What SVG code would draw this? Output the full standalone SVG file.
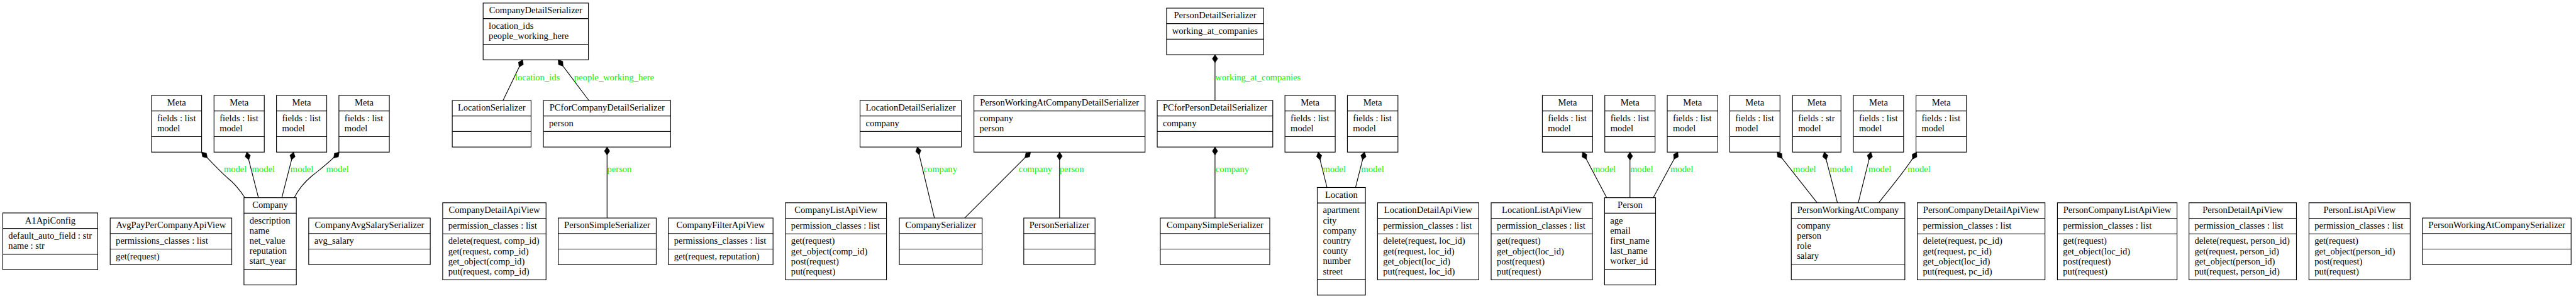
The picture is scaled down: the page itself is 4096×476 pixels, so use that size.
<svg xmlns="http://www.w3.org/2000/svg" width="4096" height="476" viewBox="0 0 4096 476">
<style>
.b{fill:#fff;stroke:#000;stroke-width:1.4}
.s{stroke:#000;stroke-width:1.4}
text{font-family:"Liberation Serif","Times New Roman",serif;font-size:18px;fill:#000}
.h{text-anchor:middle}
.lb{fill:#00ff00}
.e{fill:none;stroke:#000;stroke-width:1.4;marker-end:url(#dia)}
</style>
<defs>
<marker id="dia" markerUnits="userSpaceOnUse" viewBox="0 -6 16 12" markerWidth="16" markerHeight="12" refX="15.8" refY="0" orient="auto" overflow="visible">
<path d="M0,0 L7.9,-5.25 L15.8,0 L7.9,5.25 Z" fill="#000" stroke="#000" stroke-width="0.8"/>
</marker>
</defs>
<rect width="4096" height="476" fill="#fff"/>
<g transform="scale(0.81)">
<g id="connectors">
<path class="e" d="M480.7,388.5 C470,372 460,360 446,349 C432,337 415,318 395.8,299"/>
<path class="e" d="M507.3,388.5 L484.4,299"/>
<path class="e" d="M553.3,388.5 L576.2,299"/>
<path class="e" d="M577.6,388.5 C588,368 600,356 612,346 C630,332 650,316 665.8,299"/>
<path class="e" d="M987.4,197.5 L1026,117.5"/>
<path class="e" d="M1156,197.5 L1095.8,117.5"/>
<path class="e" d="M1191.7,428.5 L1191.7,289"/>
<path class="e" d="M1834.3,428.5 L1800.8,289"/>
<path class="e" d="M1893.6,428.5 L2023,299"/>
<path class="e" d="M2080,428.5 L2080,299"/>
<path class="e" d="M2385.1,197.5 L2385.1,107.5"/>
<path class="e" d="M2385.1,428.5 L2385.1,289"/>
<path class="e" d="M2605,368.5 L2587.6,299"/>
<path class="e" d="M2661,368.5 L2678.5,299"/>
<path class="e" d="M3154,388.5 L3106.7,299"/>
<path class="e" d="M3199.7,388.5 L3199.7,299"/>
<path class="e" d="M3245.4,388.5 L3293.6,299"/>
<path class="e" d="M3567.2,398.5 L3488.7,299"/>
<path class="e" d="M3607,398.5 L3581.1,299"/>
<path class="e" d="M3647.8,398.5 L3672.6,299"/>
<path class="e" d="M3688,398.5 C3710,370 3745,330 3762.2,299"/>
<text class="lb" x="439.4" y="338">model</text>
<text class="lb" x="494.5" y="338">model</text>
<text class="lb" x="570.2" y="338">model</text>
<text class="lb" x="640" y="338">model</text>
<text class="lb" x="1011" y="157.5">location_ids</text>
<text class="lb" x="1127" y="157.5">people_working_here</text>
<text class="lb" x="1192" y="338">person</text>
<text class="lb" x="1813" y="338">company</text>
<text class="lb" x="1999.6" y="338">company</text>
<text class="lb" x="2080" y="338">person</text>
<text class="lb" x="2385.5" y="157.5">working_at_companies</text>
<text class="lb" x="2386" y="338">company</text>
<text class="lb" x="2596.8" y="338">model</text>
<text class="lb" x="2672" y="338">model</text>
<text class="lb" x="3126.9" y="338">model</text>
<text class="lb" x="3200" y="338">model</text>
<text class="lb" x="3278.9" y="338">model</text>
<text class="lb" x="3519.9" y="338">model</text>
<text class="lb" x="3592" y="338">model</text>
<text class="lb" x="3667.7" y="338">model</text>
<text class="lb" x="3744.8" y="338">model</text>
</g>

<!-- rank 2 -->
<g id="CompanyDetailSerializer">
<rect class="b" x="948.4" y="6" width="206.6" height="111.5"/>
<line class="s" x1="948.4" y1="36.5" x2="1155" y2="36.5"/>
<line class="s" x1="948.4" y1="87" x2="1155" y2="87"/>
<text class="h" x="1051.7" y="26">CompanyDetailSerializer</text>
<text x="959.4" y="56.5">location_ids</text>
<text x="959.4" y="76.5">people_working_here</text>
</g>
<g id="PersonDetailSerializer">
<rect class="b" x="2290" y="16" width="190.6" height="91.5"/>
<line class="s" x1="2290" y1="46.5" x2="2480.6" y2="46.5"/>
<line class="s" x1="2290" y1="77" x2="2480.6" y2="77"/>
<text class="h" x="2385.3" y="36">PersonDetailSerializer</text>
<text x="2301" y="66.5">working_at_companies</text>
</g>

<!-- rank 1 -->
<g id="Meta_C1">
<rect class="b" x="297.5" y="187.5" width="98.3" height="111.5"/>
<line class="s" x1="297.5" y1="218" x2="395.8" y2="218"/>
<line class="s" x1="297.5" y1="268.5" x2="395.8" y2="268.5"/>
<text class="h" x="346.65" y="207.5">Meta</text>
<text x="308.5" y="238">fields : list</text>
<text x="308.5" y="258">model</text>
</g>
<g id="Meta_C2">
<rect class="b" x="420.1" y="187.5" width="98.7" height="111.5"/>
<line class="s" x1="420.1" y1="218" x2="518.8" y2="218"/>
<line class="s" x1="420.1" y1="268.5" x2="518.8" y2="268.5"/>
<text class="h" x="469.45" y="207.5">Meta</text>
<text x="431.1" y="238">fields : list</text>
<text x="431.1" y="258">model</text>
</g>
<g id="Meta_C3">
<rect class="b" x="542.7" y="187.5" width="98.7" height="111.5"/>
<line class="s" x1="542.7" y1="218" x2="641.4" y2="218"/>
<line class="s" x1="542.7" y1="268.5" x2="641.4" y2="268.5"/>
<text class="h" x="592.05" y="207.5">Meta</text>
<text x="553.7" y="238">fields : list</text>
<text x="553.7" y="258">model</text>
</g>
<g id="Meta_C4">
<rect class="b" x="665.3" y="187.5" width="99" height="111.5"/>
<line class="s" x1="665.3" y1="218" x2="764.3" y2="218"/>
<line class="s" x1="665.3" y1="268.5" x2="764.3" y2="268.5"/>
<text class="h" x="714.8" y="207.5">Meta</text>
<text x="676.3" y="238">fields : list</text>
<text x="676.3" y="258">model</text>
</g>
<g id="LocationSerializer">
<rect class="b" x="887.8" y="197.5" width="154.7" height="91.5"/>
<line class="s" x1="887.8" y1="228" x2="1042.5" y2="228"/>
<line class="s" x1="887.8" y1="258.5" x2="1042.5" y2="258.5"/>
<text class="h" x="965.15" y="217.5">LocationSerializer</text>
</g>
<g id="PCforCompanyDetailSerializer">
<rect class="b" x="1066.8" y="197.5" width="249.8" height="91.5"/>
<line class="s" x1="1066.8" y1="228" x2="1316.6" y2="228"/>
<line class="s" x1="1066.8" y1="258.5" x2="1316.6" y2="258.5"/>
<text class="h" x="1191.7" y="217.5">PCforCompanyDetailSerializer</text>
<text x="1077.8" y="248">person</text>
</g>
<g id="LocationDetailSerializer">
<rect class="b" x="1688.3" y="197.5" width="198.8" height="91.5"/>
<line class="s" x1="1688.3" y1="228" x2="1887.1" y2="228"/>
<line class="s" x1="1688.3" y1="258.5" x2="1887.1" y2="258.5"/>
<text class="h" x="1787.7" y="217.5">LocationDetailSerializer</text>
<text x="1699.3" y="248">company</text>
</g>
<g id="PersonWorkingAtCompanyDetailSerializer">
<rect class="b" x="1911.9" y="187.5" width="335.9" height="111.5"/>
<line class="s" x1="1911.9" y1="218" x2="2247.8" y2="218"/>
<line class="s" x1="1911.9" y1="268.5" x2="2247.8" y2="268.5"/>
<text class="h" x="2079.85" y="207.5">PersonWorkingAtCompanyDetailSerializer</text>
<text x="1922.9" y="238">company</text>
<text x="1922.9" y="258">person</text>
</g>
<g id="PCforPersonDetailSerializer">
<rect class="b" x="2271.7" y="197.5" width="226.8" height="91.5"/>
<line class="s" x1="2271.7" y1="228" x2="2498.5" y2="228"/>
<line class="s" x1="2271.7" y1="258.5" x2="2498.5" y2="258.5"/>
<text class="h" x="2385.1" y="217.5">PCforPersonDetailSerializer</text>
<text x="2282.7" y="248">company</text>
</g>
<g id="Meta_L1">
<rect class="b" x="2522.4" y="187.5" width="98.7" height="111.5"/>
<line class="s" x1="2522.4" y1="218" x2="2621.1" y2="218"/>
<line class="s" x1="2522.4" y1="268.5" x2="2621.1" y2="268.5"/>
<text class="h" x="2571.75" y="207.5">Meta</text>
<text x="2533.4" y="238">fields : list</text>
<text x="2533.4" y="258">model</text>
</g>
<g id="Meta_L2">
<rect class="b" x="2645" y="187.5" width="99.2" height="111.5"/>
<line class="s" x1="2645" y1="218" x2="2744.2" y2="218"/>
<line class="s" x1="2645" y1="268.5" x2="2744.2" y2="268.5"/>
<text class="h" x="2694.6" y="207.5">Meta</text>
<text x="2656" y="238">fields : list</text>
<text x="2656" y="258">model</text>
</g>
<g id="Meta_P1">
<rect class="b" x="3027.7" y="187.5" width="98.7" height="111.5"/>
<line class="s" x1="3027.7" y1="218" x2="3126.4" y2="218"/>
<line class="s" x1="3027.7" y1="268.5" x2="3126.4" y2="268.5"/>
<text class="h" x="3077.05" y="207.5">Meta</text>
<text x="3038.7" y="238">fields : list</text>
<text x="3038.7" y="258">model</text>
</g>
<g id="Meta_P2">
<rect class="b" x="3150.3" y="187.5" width="98.7" height="111.5"/>
<line class="s" x1="3150.3" y1="218" x2="3249" y2="218"/>
<line class="s" x1="3150.3" y1="268.5" x2="3249" y2="268.5"/>
<text class="h" x="3199.65" y="207.5">Meta</text>
<text x="3161.3" y="238">fields : list</text>
<text x="3161.3" y="258">model</text>
</g>
<g id="Meta_P3">
<rect class="b" x="3272.9" y="187.5" width="99.2" height="111.5"/>
<line class="s" x1="3272.9" y1="218" x2="3372.1" y2="218"/>
<line class="s" x1="3272.9" y1="268.5" x2="3372.1" y2="268.5"/>
<text class="h" x="3322.5" y="207.5">Meta</text>
<text x="3283.9" y="238">fields : list</text>
<text x="3283.9" y="258">model</text>
</g>
<g id="Meta_W1">
<rect class="b" x="3395.5" y="187.5" width="98.7" height="111.5"/>
<line class="s" x1="3395.5" y1="218" x2="3494.2" y2="218"/>
<line class="s" x1="3395.5" y1="268.5" x2="3494.2" y2="268.5"/>
<text class="h" x="3444.85" y="207.5">Meta</text>
<text x="3406.5" y="238">fields : list</text>
<text x="3406.5" y="258">model</text>
</g>
<g id="Meta_W2">
<rect class="b" x="3518.9" y="187.5" width="95" height="111.5"/>
<line class="s" x1="3518.9" y1="218" x2="3613.9" y2="218"/>
<line class="s" x1="3518.9" y1="268.5" x2="3613.9" y2="268.5"/>
<text class="h" x="3566.4" y="207.5">Meta</text>
<text x="3529.9" y="238">fields : str</text>
<text x="3529.9" y="258">model</text>
</g>
<g id="Meta_W3">
<rect class="b" x="3638.3" y="187.5" width="98.5" height="111.5"/>
<line class="s" x1="3638.3" y1="218" x2="3736.8" y2="218"/>
<line class="s" x1="3638.3" y1="268.5" x2="3736.8" y2="268.5"/>
<text class="h" x="3687.55" y="207.5">Meta</text>
<text x="3649.3" y="238">fields : list</text>
<text x="3649.3" y="258">model</text>
</g>
<g id="Meta_W4">
<rect class="b" x="3761.2" y="187.5" width="99" height="111.5"/>
<line class="s" x1="3761.2" y1="218" x2="3860.2" y2="218"/>
<line class="s" x1="3761.2" y1="268.5" x2="3860.2" y2="268.5"/>
<text class="h" x="3810.7" y="207.5">Meta</text>
<text x="3772.2" y="238">fields : list</text>
<text x="3772.2" y="258">model</text>
</g>

<!-- rank 0 -->
<g id="A1ApiConfig">
<rect class="b" x="5.5" y="418.5" width="186.4" height="111.5"/>
<line class="s" x1="5.5" y1="449" x2="191.9" y2="449"/>
<line class="s" x1="5.5" y1="499.5" x2="191.9" y2="499.5"/>
<text class="h" x="98.7" y="439">A1ApiConfig</text>
<text x="16.5" y="469">default_auto_field : str</text>
<text x="16.5" y="489">name : str</text>
</g>
<g id="AvgPayPerCompanyApiView">
<rect class="b" x="216.3" y="428.5" width="238.7" height="91.5"/>
<line class="s" x1="216.3" y1="459" x2="455" y2="459"/>
<line class="s" x1="216.3" y1="489.5" x2="455" y2="489.5"/>
<text class="h" x="335.65" y="448.5">AvgPayPerCompanyApiView</text>
<text x="227.3" y="479">permissions_classes : list</text>
<text x="227.3" y="509.5">get(request)</text>
</g>
<g id="Company">
<rect class="b" x="478.9" y="388.5" width="102.8" height="171.5"/>
<line class="s" x1="478.9" y1="419" x2="581.7" y2="419"/>
<line class="s" x1="478.9" y1="529.5" x2="581.7" y2="529.5"/>
<text class="h" x="530.3" y="408.5">Company</text>
<text x="489.9" y="439">description</text>
<text x="489.9" y="459">name</text>
<text x="489.9" y="479">net_value</text>
<text x="489.9" y="499">reputation</text>
<text x="489.9" y="519">start_year</text>
</g>
<g id="CompanyAvgSalarySerializer">
<rect class="b" x="606" y="428.5" width="238.6" height="91.5"/>
<line class="s" x1="606" y1="459" x2="844.6" y2="459"/>
<line class="s" x1="606" y1="489.5" x2="844.6" y2="489.5"/>
<text class="h" x="725.3" y="448.5">CompanyAvgSalarySerializer</text>
<text x="617" y="479">avg_salary</text>
</g>
<g id="CompanyDetailApiView">
<rect class="b" x="869" y="398.5" width="202.9" height="151.5"/>
<line class="s" x1="869" y1="429" x2="1071.9" y2="429"/>
<line class="s" x1="869" y1="459.5" x2="1071.9" y2="459.5"/>
<text class="h" x="970.45" y="419">CompanyDetailApiView</text>
<text x="880" y="449.5">permission_classes : list</text>
<text x="880" y="479.5">delete(request, comp_id)</text>
<text x="880" y="499.5">get(request, comp_id)</text>
<text x="880" y="519.5">get_object(comp_id)</text>
<text x="880" y="539.5">put(request, comp_id)</text>
</g>
<g id="PersonSimpleSerializer">
<rect class="b" x="1095.8" y="428.5" width="192.4" height="91.5"/>
<line class="s" x1="1095.8" y1="459" x2="1288.2" y2="459"/>
<line class="s" x1="1095.8" y1="489.5" x2="1288.2" y2="489.5"/>
<text class="h" x="1192" y="448.5">PersonSimpleSerializer</text>
</g>
<g id="CompanyFilterApiView">
<rect class="b" x="1312" y="428.5" width="205.5" height="91.5"/>
<line class="s" x1="1312" y1="459" x2="1517.5" y2="459"/>
<line class="s" x1="1312" y1="489.5" x2="1517.5" y2="489.5"/>
<text class="h" x="1414.75" y="448.5">CompanyFilterApiView</text>
<text x="1323" y="479">permissions_classes : list</text>
<text x="1323" y="509.5">get(request, reputation)</text>
</g>
<g id="CompanyListApiView">
<rect class="b" x="1541.9" y="398.5" width="198.3" height="151.5"/>
<line class="s" x1="1541.9" y1="429" x2="1740.2" y2="429"/>
<line class="s" x1="1541.9" y1="459.5" x2="1740.2" y2="459.5"/>
<text class="h" x="1641.05" y="419">CompanyListApiView</text>
<text x="1552.9" y="449.5">permission_classes : list</text>
<text x="1552.9" y="479.5">get(request)</text>
<text x="1552.9" y="499.5">get_object(comp_id)</text>
<text x="1552.9" y="519.5">post(request)</text>
<text x="1552.9" y="539.5">put(request)</text>
</g>
<g id="CompanySerializer">
<rect class="b" x="1765.5" y="428.5" width="162.5" height="91.5"/>
<line class="s" x1="1765.5" y1="459" x2="1928" y2="459"/>
<line class="s" x1="1765.5" y1="489.5" x2="1928" y2="489.5"/>
<text class="h" x="1846.75" y="448.5">CompanySerializer</text>
</g>
<g id="PersonSerializer">
<rect class="b" x="2009.7" y="428.5" width="139.9" height="91.5"/>
<line class="s" x1="2009.7" y1="459" x2="2149.6" y2="459"/>
<line class="s" x1="2009.7" y1="489.5" x2="2149.6" y2="489.5"/>
<text class="h" x="2079.65" y="448.5">PersonSerializer</text>
</g>
<g id="CompanySimpleSerializer">
<rect class="b" x="2277.7" y="428.5" width="214.9" height="91.5"/>
<line class="s" x1="2277.7" y1="459" x2="2492.6" y2="459"/>
<line class="s" x1="2277.7" y1="489.5" x2="2492.6" y2="489.5"/>
<text class="h" x="2385.15" y="448.5">CompanySimpleSerializer</text>
</g>
<g id="Location">
<rect class="b" x="2585.8" y="368.5" width="94.6" height="211.5"/>
<line class="s" x1="2585.8" y1="399" x2="2680.4" y2="399"/>
<line class="s" x1="2585.8" y1="549.5" x2="2680.4" y2="549.5"/>
<text class="h" x="2633.1" y="388.5">Location</text>
<text x="2596.8" y="419">apartment</text>
<text x="2596.8" y="439">city</text>
<text x="2596.8" y="459">company</text>
<text x="2596.8" y="479">country</text>
<text x="2596.8" y="499">county</text>
<text x="2596.8" y="519">number</text>
<text x="2596.8" y="539">street</text>
</g>
<g id="LocationDetailApiView">
<rect class="b" x="2704.2" y="398.5" width="198.6" height="151.5"/>
<line class="s" x1="2704.2" y1="429" x2="2902.8" y2="429"/>
<line class="s" x1="2704.2" y1="459.5" x2="2902.8" y2="459.5"/>
<text class="h" x="2803.5" y="419">LocationDetailApiView</text>
<text x="2715.2" y="449.5">permission_classes : list</text>
<text x="2715.2" y="479.5">delete(request, loc_id)</text>
<text x="2715.2" y="499.5">get(request, loc_id)</text>
<text x="2715.2" y="519.5">get_object(loc_id)</text>
<text x="2715.2" y="539.5">put(request, loc_id)</text>
</g>
<g id="LocationListApiView">
<rect class="b" x="2927.2" y="398.5" width="198.8" height="151.5"/>
<line class="s" x1="2927.2" y1="429" x2="3126" y2="429"/>
<line class="s" x1="2927.2" y1="459.5" x2="3126" y2="459.5"/>
<text class="h" x="3026.6" y="419">LocationListApiView</text>
<text x="2938.2" y="449.5">permission_classes : list</text>
<text x="2938.2" y="479.5">get(request)</text>
<text x="2938.2" y="499.5">get_object(loc_id)</text>
<text x="2938.2" y="519.5">post(request)</text>
<text x="2938.2" y="539.5">put(request)</text>
</g>
<g id="Person">
<rect class="b" x="3149.9" y="388.5" width="100.1" height="171.5"/>
<line class="s" x1="3149.9" y1="419" x2="3250" y2="419"/>
<line class="s" x1="3149.9" y1="529.5" x2="3250" y2="529.5"/>
<text class="h" x="3199.95" y="408.5">Person</text>
<text x="3160.9" y="439">age</text>
<text x="3160.9" y="459">email</text>
<text x="3160.9" y="479">first_name</text>
<text x="3160.9" y="499">last_name</text>
<text x="3160.9" y="519">worker_id</text>
</g>
<g id="PersonWorkingAtCompany">
<rect class="b" x="3516.4" y="398.5" width="222.9" height="151.5"/>
<line class="s" x1="3516.4" y1="429" x2="3739.3" y2="429"/>
<line class="s" x1="3516.4" y1="519.5" x2="3739.3" y2="519.5"/>
<text class="h" x="3627.85" y="419">PersonWorkingAtCompany</text>
<text x="3527.4" y="449">company</text>
<text x="3527.4" y="469">person</text>
<text x="3527.4" y="489">role</text>
<text x="3527.4" y="509">salary</text>
</g>
<g id="PersonCompanyDetailApiView">
<rect class="b" x="3763.7" y="398.5" width="250.7" height="151.5"/>
<line class="s" x1="3763.7" y1="429" x2="4014.4" y2="429"/>
<line class="s" x1="3763.7" y1="459.5" x2="4014.4" y2="459.5"/>
<text class="h" x="3889.05" y="419">PersonCompanyDetailApiView</text>
<text x="3774.7" y="449.5">permission_classes : list</text>
<text x="3774.7" y="479.5">delete(request, pc_id)</text>
<text x="3774.7" y="499.5">get(request, pc_id)</text>
<text x="3774.7" y="519.5">get_object(loc_id)</text>
<text x="3774.7" y="539.5">put(request, pc_id)</text>
</g>
<g id="PersonCompanyListApiView">
<rect class="b" x="4038.8" y="398.5" width="234.8" height="151.5"/>
<line class="s" x1="4038.8" y1="429" x2="4273.6" y2="429"/>
<line class="s" x1="4038.8" y1="459.5" x2="4273.6" y2="459.5"/>
<text class="h" x="4156.2" y="419">PersonCompanyListApiView</text>
<text x="4049.8" y="449.5">permission_classes : list</text>
<text x="4049.8" y="479.5">get(request)</text>
<text x="4049.8" y="499.5">get_object(loc_id)</text>
<text x="4049.8" y="519.5">post(request)</text>
<text x="4049.8" y="539.5">put(request)</text>
</g>
<g id="PersonDetailApiView">
<rect class="b" x="4297.1" y="398.5" width="210.9" height="151.5"/>
<line class="s" x1="4297.1" y1="429" x2="4508" y2="429"/>
<line class="s" x1="4297.1" y1="459.5" x2="4508" y2="459.5"/>
<text class="h" x="4402.55" y="419">PersonDetailApiView</text>
<text x="4308.1" y="449.5">permission_classes : list</text>
<text x="4308.1" y="479.5">delete(request, person_id)</text>
<text x="4308.1" y="499.5">get(request, person_id)</text>
<text x="4308.1" y="519.5">get_object(person_id)</text>
<text x="4308.1" y="539.5">put(request, person_id)</text>
</g>
<g id="PersonListApiView">
<rect class="b" x="4532.6" y="398.5" width="198.7" height="151.5"/>
<line class="s" x1="4532.6" y1="429" x2="4731.3" y2="429"/>
<line class="s" x1="4532.6" y1="459.5" x2="4731.3" y2="459.5"/>
<text class="h" x="4631.95" y="419">PersonListApiView</text>
<text x="4543.6" y="449.5">permission_classes : list</text>
<text x="4543.6" y="479.5">get(request)</text>
<text x="4543.6" y="499.5">get_object(person_id)</text>
<text x="4543.6" y="519.5">post(request)</text>
<text x="4543.6" y="539.5">put(request)</text>
</g>
<g id="PersonWorkingAtCompanySerializer">
<rect class="b" x="4755.4" y="428.5" width="291.8" height="91.5"/>
<line class="s" x1="4755.4" y1="459" x2="5047.2" y2="459"/>
<line class="s" x1="4755.4" y1="489.5" x2="5047.2" y2="489.5"/>
<text class="h" x="4901.3" y="448.5">PersonWorkingAtCompanySerializer</text>
</g>
</g>
</svg>
